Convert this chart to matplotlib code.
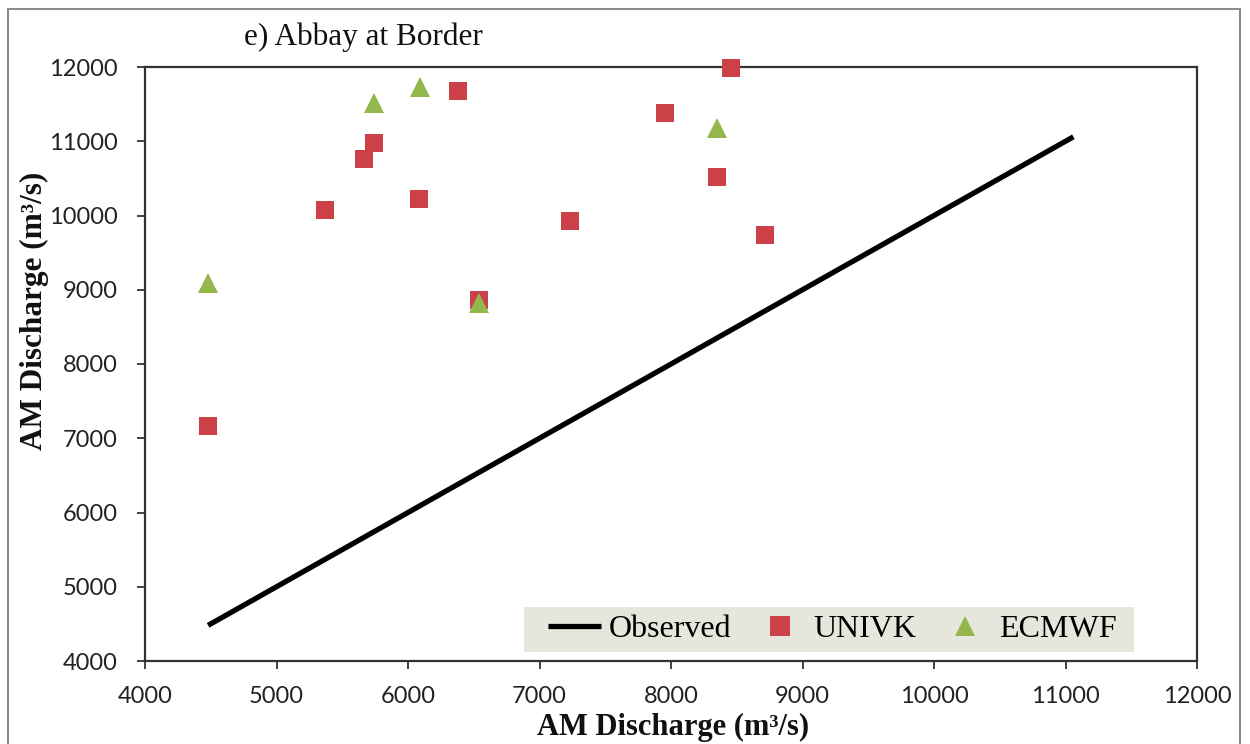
import matplotlib
matplotlib.use("Agg")
import matplotlib.pyplot as plt
from matplotlib.patches import Rectangle

# Annual-maximum discharge, Abbay at Border (m^3/s)
observed_x = [4480, 11060]
observed_y = [4480, 11060]

univk_obs = [4480, 5370, 5665, 5740, 6085, 6380, 6540, 7230, 7955, 8455, 8350, 8715]
univk_sim = [7170, 10080, 10760, 10975, 10220, 11675, 8860, 9925, 11380, 11985, 10515, 9735]

ecmwf_obs = [4480, 5740, 6090, 6540, 8350]
ecmwf_sim = [9090, 11515, 11730, 8820, 11180]

ticks = [4000, 5000, 6000, 7000, 8000, 9000, 10000, 11000, 12000]

serif = ["Liberation Serif", "DejaVu Serif"]
sans = ["Lato", "DejaVu Sans"]

fig = plt.figure(figsize=(12.5, 7.44), dpi=100)
fig.patch.set_facecolor("white")

# chart-area border
fig.patches.append(Rectangle((8 / 1250, -0.01), 1232 / 1250, 1 - 9 / 744 + 0.01,
                             transform=fig.transFigure, fill=False,
                             edgecolor="#8c8c8c", linewidth=1.5))

ax = fig.add_axes([145 / 1250, 1 - 661 / 744, 1052 / 1250, 594 / 744])

ax.plot(observed_x, observed_y, color="black", linewidth=3.8,
        solid_capstyle="butt", label="Observed", zorder=2)
ax.plot(univk_obs, univk_sim, linestyle="none", marker="s", markersize=13.5,
        color="#cc4148", markeredgewidth=0, label="UNIVK", clip_on=False, zorder=3)
ax.plot(ecmwf_obs, ecmwf_sim, linestyle="none", marker="^", markersize=14,
        color="#92b84c", markeredgewidth=0, label="ECMWF", clip_on=False, zorder=4)

ax.set_xlim(4000, 12000)
ax.set_ylim(4000, 12000)
ax.set_xticks(ticks)
ax.set_yticks(ticks)
ax.set_xticklabels([str(t) for t in ticks], fontfamily=sans, fontsize=17, color="#222222")
ax.set_yticklabels([str(t) for t in ticks], fontfamily=sans, fontsize=17, color="#222222")
ax.tick_params(direction="out", length=5.8, width=1.3, color="#333333")
ax.tick_params(axis="x", pad=12)
ax.tick_params(axis="y", pad=14)

for side in ax.spines.values():
    side.set_color("#333333")
    side.set_linewidth(1.6)

fig.text(363 / 1250, 1 - 37 / 744, "e) Abbay at Border", fontfamily=serif,
         fontsize=22.5, ha="center", va="center", color="#111111")
fig.text(673 / 1250, 1 - 727 / 744, "AM Discharge (m³/s)", fontfamily=serif,
         fontsize=22, fontweight="bold", ha="center", va="center", color="#111111")
fig.text(34 / 1250, 1 - 311 / 744, "AM Discharge (m³/s)", fontfamily=serif,
         fontsize=22.5, fontweight="bold", ha="center", va="center",
         rotation=90, color="#111111")

# legend background band
ax.add_patch(Rectangle((0.360, 0.015), 0.580, 0.076, transform=ax.transAxes,
                       facecolor="#e6e6dc", edgecolor="none", zorder=1))
leg = ax.legend(loc="center", bbox_to_anchor=(0.6535, 0.053), ncol=3,
                frameon=False, prop={"family": serif, "size": 23},
                handlelength=1.66, handletextpad=0.22, columnspacing=0.7,
                borderpad=0.0, markerscale=1.05)
leg.set_zorder(5)

fig.savefig("out.png", dpi=100, facecolor="white")
